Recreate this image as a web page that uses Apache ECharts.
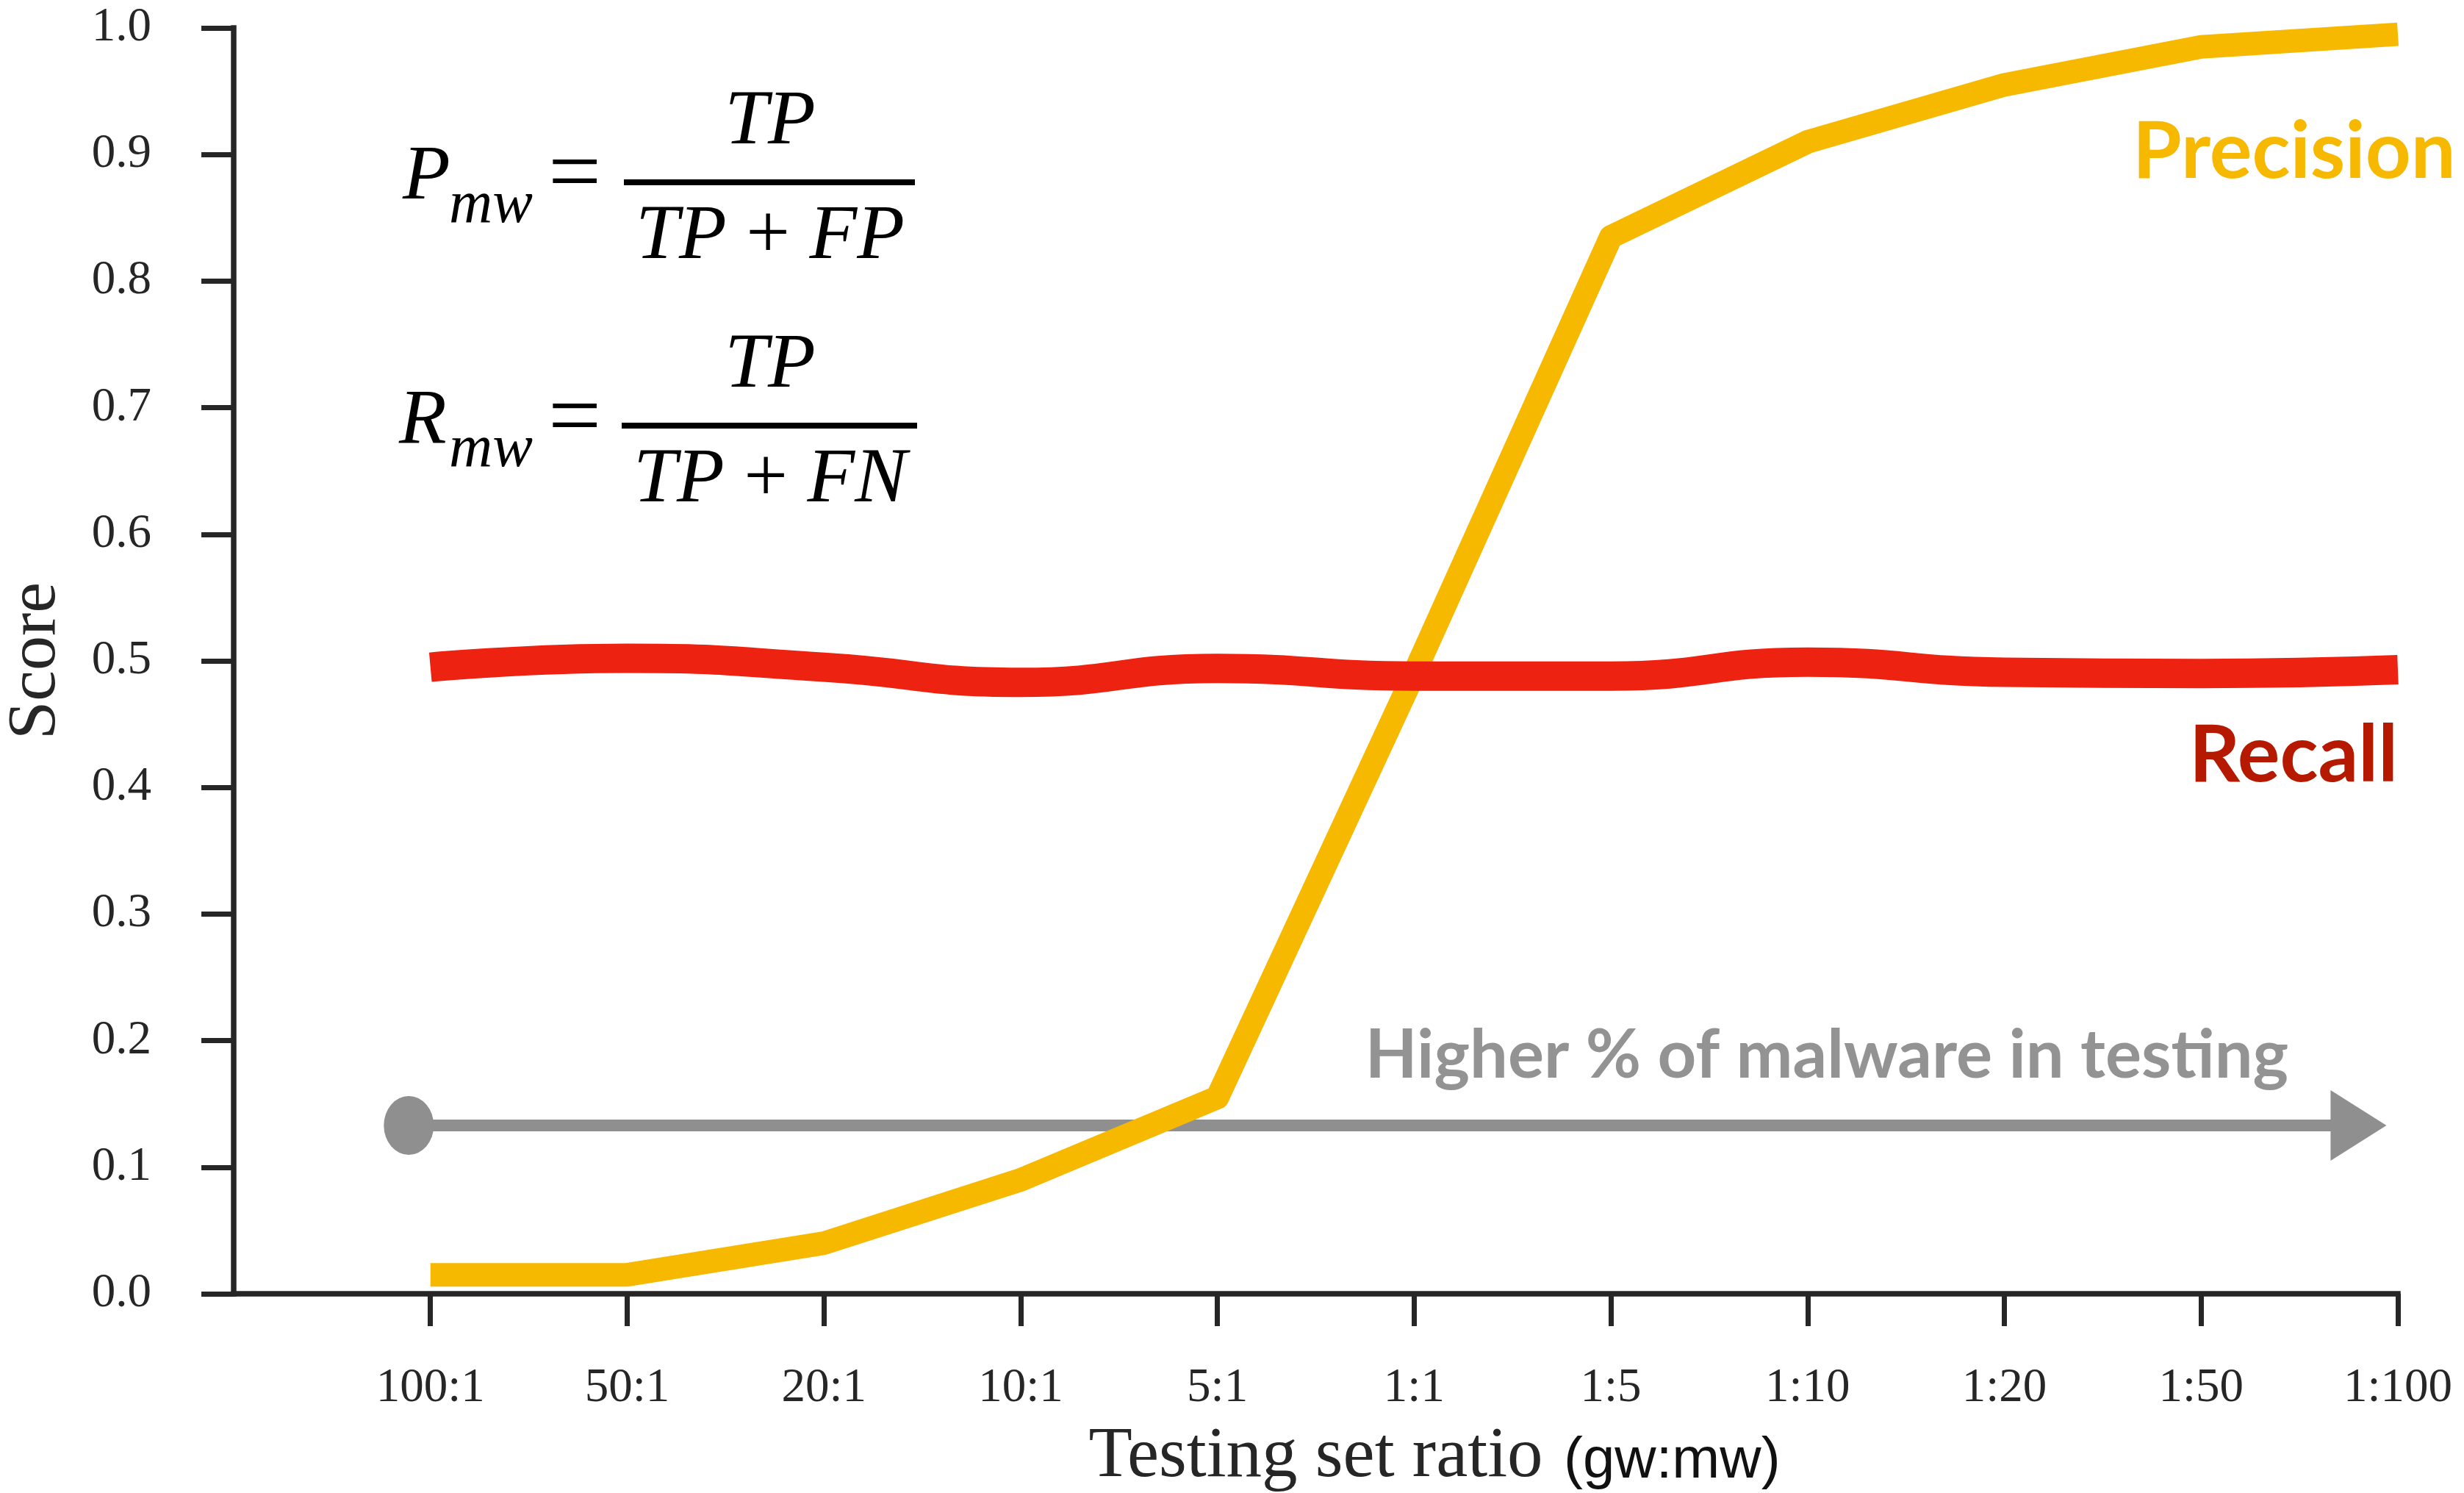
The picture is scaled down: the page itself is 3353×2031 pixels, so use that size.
<!DOCTYPE html>
<html>
<head>
<meta charset="utf-8">
<script src="https://cdn.jsdelivr.net/npm/echarts@6/dist/echarts.min.js"></script>
<style>
  html, body { margin: 0; padding: 0; background: #ffffff; }
  #chart { width: 3353px; height: 2031px; }
</style>
</head>
<body>
<div id="chart"></div>
<script>
// Testing-set ratios (goodware : malware), placed at positions 1..11 on the x axis
const ratioLabels = ['100:1', '50:1', '20:1', '10:1', '5:1', '1:1', '1:5', '1:10', '1:20', '1:50', '1:100'];
const ratioPositions = [1, 2, 3, 4, 5, 6, 7, 8, 9, 10, 11];

// Malware-class scores at each ratio
const precisionScores = [0.015, 0.015, 0.04, 0.09, 0.155, 0.49, 0.835, 0.91, 0.955, 0.985, 0.995];
const recallScores    = [0.495, 0.502, 0.495, 0.483, 0.494, 0.488, 0.488, 0.499, 0.491, 0.49, 0.493];

// Score axis ticks
const scoreTicks = [0, 0.1, 0.2, 0.3, 0.4, 0.5, 0.6, 0.7, 0.8, 0.9, 1.0];

// Direction arrow: tail dot and head, in axis units
const trendArrow = [[0.89, 0.133], [10.8, 0.133]];

const AXIS = '#262626';
const SERIF = '"Liberation Serif", "DejaVu Serif", serif';
const SANS = 'Lato, "Open Sans", "Noto Sans", sans-serif';
const MATH = 106;

const chart = echarts.init(document.getElementById('chart'), null, { renderer: 'canvas' });

const pair = (xs, ys) => xs.map((x, i) => [x, ys[i]]);

function txt(text, x, y, font, fill, align) {
  return {
    type: 'text', x: x, y: y, silent: true,
    style: { text: text, font: font, fill: fill, align: align || 'left', verticalAlign: 'middle' }
  };
}

function fraction(num, den, cx, barX, barY, barW) {
  return [
    {
      type: 'rect', silent: true,
      shape: { x: barX, y: barY - 4, width: barW, height: 8 },
      style: { fill: '#000' }
    },
    txt(num, cx, barY - 81, 'italic ' + MATH + 'px ' + SERIF, '#000', 'center'),
    {
      type: 'text', x: cx, y: barY + 75, silent: true,
      style: {
        text: den, align: 'center', verticalAlign: 'middle', fill: '#000',
        font: 'italic ' + MATH + 'px ' + SERIF,
        rich: {
          i: { font: 'italic ' + MATH + 'px ' + SERIF, fill: '#000' },
          u: { font: MATH + 'px ' + SERIF, fill: '#000' }
        }
      }
    }
  ];
}

const option = {
  animation: false,
  backgroundColor: '#ffffff',
  grid: { left: 318, right: 90, top: 38, bottom: 271, containLabel: false, outerBoundsMode: 'none' },
  xAxis: {
    type: 'value',
    min: 0, max: 11, interval: 1,
    name: 'Testing set ratio',
    nameLocation: 'middle',
    nameGap: 174,
    nameTextStyle: { fontFamily: SERIF, fontSize: 97, color: AXIS },
    axisLine: { lineStyle: { color: AXIS, width: 7.5, cap: 'square' } },
    axisTick: { show: true, length: 44, customValues: ratioPositions, lineStyle: { color: AXIS, width: 7 } },
    axisLabel: {
      customValues: ratioPositions,
      margin: 96,
      fontFamily: SERIF, fontSize: 65, color: AXIS,
      formatter: v => ratioLabels[ratioPositions.indexOf(v)] || ''
    },
    splitLine: { show: false }
  },
  yAxis: {
    type: 'value',
    min: 0, max: 1, interval: 0.1,
    name: 'Score',
    nameLocation: 'middle',
    nameGap: 222,
    nameTextStyle: { fontFamily: SERIF, fontSize: 94, color: AXIS },
    axisLine: { show: true, lineStyle: { color: AXIS, width: 7.5, cap: 'square' } },
    axisTick: { show: true, length: 44, customValues: scoreTicks, lineStyle: { color: AXIS, width: 7 } },
    axisLabel: {
      customValues: scoreTicks,
      margin: 112,
      fontFamily: SERIF, fontSize: 65, color: AXIS,
      formatter: v => v.toFixed(1)
    },
    splitLine: { show: false }
  },
  series: [
    {
      name: 'Higher % of malware in testing',
      type: 'line',
      silent: true,
      clip: false,
      data: [
        { value: trendArrow[0], symbol: 'circle', symbolSize: [68, 80] },
        { value: trendArrow[1], symbol: 'triangle', symbolSize: [96, 76], symbolRotate: -90 }
      ],
      showSymbol: true,
      lineStyle: { color: '#8f8f8f', width: 16 },
      itemStyle: { color: '#8f8f8f' }
    },
    {
      name: 'Precision',
      type: 'line',
      silent: true,
      data: pair(ratioPositions, precisionScores),
      showSymbol: false,
      smooth: false,
      lineStyle: { color: '#F7B900', width: 32, join: 'round', cap: 'butt' }
    },
    {
      name: 'Recall',
      type: 'line',
      silent: true,
      data: pair(ratioPositions, recallScores),
      showSymbol: false,
      smooth: 0.5,
      lineStyle: { color: '#EE2211', width: 40, join: 'round', cap: 'butt' }
    }
  ],
  graphic: {
    elements: [
      // series labels
      txt('Precision', 2902, 207, 'bold 108px ' + SANS, '#F7B900'),
      txt('Recall', 2979, 1028, 'bold 108px ' + SANS, '#B51A00'),
      txt('Higher % of malware in testing', 2486, 1436, 'bold 92px ' + SANS, '#939393', 'center'),
      // unit suffix of the x-axis title
      txt('(gw:mw)', 2128, 1988, '78px "Liberation Sans", Arial, sans-serif', '#111111'),
      // P_mw = TP / (TP + FP)
      txt('P', 548, 242, 'italic ' + MATH + 'px ' + SERIF, '#000'),
      txt('mw', 611, 280, 'italic 82px ' + SERIF, '#000'),
      txt('=', 782, 241, '128px ' + SERIF, '#000', 'center'),
      ...fraction('TP', '{i|TP} {u|+} {i|FP}', 1048, 849, 248, 396),
      // R_mw = TP / (TP + FN)
      txt('R', 543, 574, 'italic ' + MATH + 'px ' + SERIF, '#000'),
      txt('mw', 611, 612, 'italic 82px ' + SERIF, '#000'),
      txt('=', 782, 573, '128px ' + SERIF, '#000', 'center'),
      ...fraction('TP', '{i|TP} {u|+} {i|FN}', 1048, 846, 579, 402)
    ]
  }
};

chart.setOption(option);
</script>
</body>
</html>
